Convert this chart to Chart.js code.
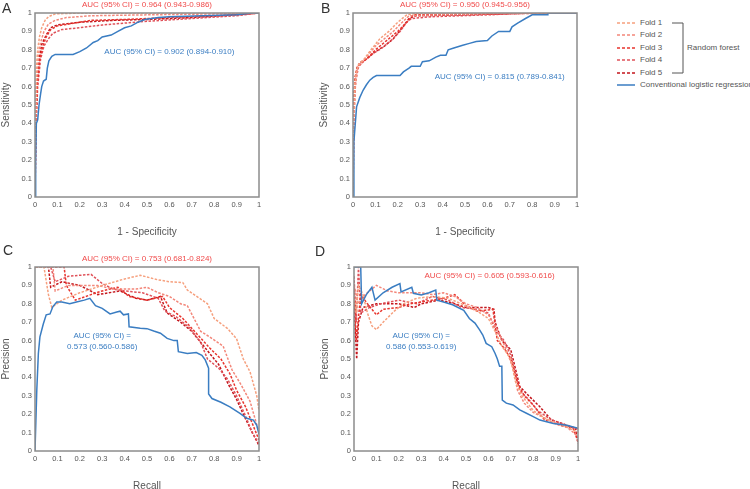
<!DOCTYPE html>
<html>
<head>
<meta charset="utf-8">
<script src="https://cdn.jsdelivr.net/npm/chart.js@4.4.1/dist/chart.umd.min.js"></script>
<style>
  body { margin:0; width:750px; height:489px; overflow:hidden; background:#fff; font-family:"Liberation Sans", Arial, sans-serif; position:relative; }
  canvas { position:absolute; }
  .tag { position:absolute; font-size:14px; color:#333; line-height:1; }
  .leg { position:absolute; font-size:8px; color:#555; line-height:1; white-space:nowrap; }
</style>
</head>
<body>
<canvas id="cA" style="left:0;top:0;width:270px;height:240px" width="270" height="240"></canvas>
<canvas id="cB" style="left:318px;top:0;width:270px;height:240px" width="270" height="240"></canvas>
<canvas id="cC" style="left:0;top:254px;width:270px;height:240px" width="270" height="240"></canvas>
<canvas id="cD" style="left:319px;top:254px;width:270px;height:240px" width="270" height="240"></canvas>

<div class="tag" style="left:2px;top:1px">A</div>
<div class="tag" style="left:321px;top:1px">B</div>
<div class="tag" style="left:3px;top:243px">C</div>
<div class="tag" style="left:315px;top:244px">D</div>

<svg style="position:absolute;left:610px;top:15px" width="90" height="80">
  <line x1="7" y1="8" x2="25" y2="8" stroke="#f6a07e" stroke-width="1.5" stroke-dasharray="3,2"/>
  <line x1="7" y1="20" x2="25" y2="20" stroke="#f3877a" stroke-width="1.5" stroke-dasharray="3,2"/>
  <line x1="7" y1="33" x2="25" y2="33" stroke="#e8352e" stroke-width="1.5" stroke-dasharray="3,2"/>
  <line x1="7" y1="45" x2="25" y2="45" stroke="#e0525a" stroke-width="1.5" stroke-dasharray="3,2"/>
  <line x1="7" y1="58" x2="25" y2="58" stroke="#c4161c" stroke-width="1.5" stroke-dasharray="3,2"/>
  <line x1="7" y1="70" x2="25" y2="70" stroke="#3a7dc2" stroke-width="1.5"/>
  <polyline points="62,8 73,8 73,58 62,58" fill="none" stroke="#555" stroke-width="1"/>
</svg>
<div class="leg" style="left:640px;top:19px">Fold 1</div>
<div class="leg" style="left:640px;top:31px">Fold 2</div>
<div class="leg" style="left:640px;top:44px">Fold 3</div>
<div class="leg" style="left:640px;top:56px">Fold 4</div>
<div class="leg" style="left:640px;top:69px">Fold 5</div>
<div class="leg" style="left:687px;top:44px">Random forest</div>
<div class="leg" style="left:640px;top:81px">Conventional logistic regression</div>

<script>
// ---- A: ROC, test set 1 ----
const A_fold1 = [[0,0],[0.002,0.45],[0.006,0.7],[0.012,0.8],[0.02,0.87],[0.03,0.92],[0.045,0.96],[0.06,0.98],[0.09,0.995],[0.2,1],[1,1]];
const A_fold2 = [[0,0],[0.003,0.4],[0.008,0.65],[0.015,0.77],[0.025,0.84],[0.04,0.9],[0.06,0.94],[0.09,0.96],[0.14,0.975],[0.25,0.985],[0.5,0.99],[0.8,0.995],[1,1]];
const A_fold3 = [[0,0],[0.004,0.4],[0.01,0.6],[0.02,0.74],[0.035,0.82],[0.05,0.87],[0.07,0.91],[0.1,0.93],[0.15,0.94],[0.25,0.96],[0.4,0.965],[0.6,0.975],[0.8,0.985],[1,1]];
const A_fold4 = [[0,0],[0.004,0.35],[0.012,0.6],[0.025,0.75],[0.04,0.82],[0.06,0.86],[0.08,0.89],[0.12,0.91],[0.2,0.92],[0.3,0.935],[0.5,0.955],[0.7,0.97],[0.9,0.985],[1,1]];
const A_fold5 = [[0,0],[0.003,0.4],[0.01,0.62],[0.02,0.76],[0.03,0.83],[0.05,0.88],[0.07,0.92],[0.1,0.935],[0.2,0.95],[0.35,0.96],[0.5,0.965],[0.7,0.975],[0.9,0.99],[1,1]];
const A_lr = [[0,0],[0.003,0.2],[0.006,0.4],[0.012,0.42],[0.018,0.5],[0.025,0.56],[0.03,0.6],[0.038,0.63],[0.05,0.64],[0.055,0.7],[0.062,0.74],[0.075,0.765],[0.09,0.775],[0.17,0.775],[0.2,0.79],[0.23,0.81],[0.26,0.84],[0.28,0.85],[0.3,0.87],[0.34,0.88],[0.37,0.9],[0.4,0.92],[0.43,0.93],[0.46,0.95],[0.49,0.965],[0.55,0.975],[0.6,0.98],[0.75,0.985],[0.9,0.99],[0.97,1],[1,1]];

// ---- B: ROC, test set 2 ----
const B_fold1 = [[0,0],[0.003,0.45],[0.008,0.62],[0.015,0.68],[0.025,0.72],[0.05,0.75],[0.08,0.8],[0.12,0.86],[0.16,0.9],[0.2,0.95],[0.24,0.99],[0.3,1],[1,1]];
const B_fold2 = [[0,0],[0.004,0.4],[0.01,0.6],[0.02,0.7],[0.03,0.72],[0.06,0.76],[0.1,0.82],[0.14,0.86],[0.18,0.9],[0.22,0.95],[0.25,0.985],[0.4,0.99],[0.7,1],[1,1]];
const B_fold3 = [[0,0],[0.003,0.5],[0.01,0.65],[0.02,0.71],[0.04,0.73],[0.07,0.76],[0.1,0.8],[0.15,0.85],[0.2,0.9],[0.24,0.95],[0.27,0.99],[0.5,0.995],[1,1]];
const B_fold4 = [[0,0],[0.004,0.45],[0.012,0.63],[0.025,0.71],[0.05,0.74],[0.09,0.78],[0.13,0.81],[0.17,0.85],[0.21,0.9],[0.24,0.95],[0.26,0.97],[0.35,0.98],[0.6,0.99],[0.8,1],[1,1]];
const B_fold5 = [[0,0],[0.002,0.5],[0.008,0.64],[0.018,0.7],[0.03,0.73],[0.06,0.75],[0.1,0.79],[0.14,0.82],[0.18,0.86],[0.22,0.92],[0.25,0.97],[0.28,0.985],[0.5,0.99],[0.8,1],[1,1]];
const B_lr = [[0,0],[0.004,0.3],[0.009,0.38],[0.016,0.49],[0.03,0.54],[0.045,0.58],[0.06,0.61],[0.075,0.635],[0.09,0.65],[0.105,0.66],[0.21,0.66],[0.225,0.68],[0.25,0.7],[0.26,0.71],[0.3,0.71],[0.31,0.735],[0.34,0.74],[0.37,0.76],[0.39,0.77],[0.415,0.77],[0.425,0.8],[0.45,0.81],[0.49,0.825],[0.52,0.835],[0.55,0.845],[0.6,0.85],[0.62,0.875],[0.65,0.9],[0.7,0.9],[0.71,0.925],[0.735,0.945],[0.77,0.97],[0.8,0.99],[0.87,0.99],[0.87,1],[1,1]];

// ---- C: precision-recall, test set 1 ----
const C_fold1 = [[0,1],[0.04,1],[0.06,0.85],[0.075,0.78],[0.12,0.82],[0.2,0.86],[0.3,0.9],[0.4,0.935],[0.47,0.955],[0.55,0.93],[0.6,0.92],[0.66,0.915],[0.68,0.875],[0.77,0.8],[0.8,0.72],[0.86,0.665],[0.9,0.61],[0.93,0.5],[0.96,0.43],[0.99,0.3],[1,0.22]];
const C_fold2 = [[0,1],[0.08,1],[0.09,0.87],[0.15,0.9],[0.2,0.9],[0.28,0.9],[0.35,0.88],[0.45,0.88],[0.5,0.89],[0.55,0.86],[0.6,0.84],[0.65,0.8],[0.68,0.79],[0.74,0.65],[0.78,0.62],[0.84,0.57],[0.88,0.44],[0.92,0.36],[0.96,0.27],[1,0.1]];
const C_fold3 = [[0,1],[0.13,1],[0.14,0.9],[0.18,0.82],[0.25,0.85],[0.3,0.87],[0.37,0.89],[0.42,0.84],[0.5,0.82],[0.57,0.84],[0.6,0.78],[0.66,0.72],[0.72,0.64],[0.78,0.56],[0.83,0.5],[0.87,0.42],[0.9,0.33],[0.94,0.24],[0.97,0.15],[1,0.06]];
const C_fold4 = [[0,1],[0.07,1],[0.09,0.92],[0.15,0.95],[0.25,0.96],[0.3,0.91],[0.35,0.88],[0.4,0.87],[0.48,0.86],[0.55,0.83],[0.58,0.76],[0.63,0.73],[0.69,0.67],[0.74,0.59],[0.77,0.5],[0.82,0.45],[0.86,0.39],[0.9,0.3],[0.94,0.19],[0.97,0.1],[1,0.04]];
const C_fold5 = [[0,1],[0.06,1],[0.07,0.89],[0.12,0.92],[0.2,0.9],[0.28,0.85],[0.38,0.87],[0.45,0.83],[0.5,0.82],[0.56,0.84],[0.59,0.75],[0.65,0.7],[0.7,0.65],[0.76,0.56],[0.82,0.47],[0.86,0.37],[0.9,0.28],[0.93,0.2],[0.97,0.1],[1,0.03]];
const C_lr = [[0,0],[0.008,0.33],[0.015,0.53],[0.022,0.62],[0.037,0.69],[0.05,0.74],[0.067,0.745],[0.08,0.785],[0.097,0.81],[0.12,0.81],[0.155,0.8],[0.185,0.81],[0.22,0.82],[0.245,0.83],[0.27,0.79],[0.3,0.775],[0.335,0.745],[0.365,0.755],[0.38,0.76],[0.395,0.74],[0.417,0.745],[0.42,0.675],[0.47,0.667],[0.5,0.665],[0.53,0.652],[0.56,0.64],[0.59,0.612],[0.62,0.6],[0.635,0.6],[0.64,0.54],[0.68,0.53],[0.72,0.535],[0.745,0.52],[0.76,0.495],[0.775,0.45],[0.775,0.31],[0.79,0.285],[0.83,0.265],[0.87,0.24],[0.915,0.205],[0.945,0.178],[0.975,0.168],[0.99,0.14],[1,0.09]];

// ---- D: precision-recall, test set 2 ----
const D_fold1 = [[0,0.85],[0.01,0.75],[0.02,0.9],[0.04,0.85],[0.06,0.75],[0.08,0.68],[0.1,0.66],[0.13,0.7],[0.18,0.76],[0.22,0.8],[0.28,0.83],[0.35,0.84],[0.42,0.83],[0.48,0.8],[0.55,0.76],[0.6,0.72],[0.63,0.65],[0.66,0.57],[0.7,0.5],[0.72,0.38],[0.75,0.3],[0.8,0.22],[0.85,0.18],[0.9,0.15],[0.95,0.13],[1,0.1]];
const D_fold2 = [[0,0.9],[0.02,0.8],[0.05,0.85],[0.1,0.9],[0.15,0.87],[0.2,0.86],[0.3,0.86],[0.35,0.85],[0.4,0.86],[0.45,0.84],[0.5,0.8],[0.55,0.78],[0.6,0.74],[0.64,0.66],[0.68,0.55],[0.71,0.45],[0.73,0.33],[0.76,0.26],[0.8,0.21],[0.88,0.16],[0.95,0.13],[1,0.08]];
const D_fold3 = [[0,0.9],[0.01,0.6],[0.03,0.85],[0.06,0.8],[0.1,0.74],[0.13,0.77],[0.2,0.78],[0.25,0.8],[0.3,0.81],[0.4,0.83],[0.45,0.85],[0.5,0.79],[0.55,0.76],[0.62,0.77],[0.64,0.6],[0.67,0.56],[0.7,0.5],[0.73,0.37],[0.76,0.3],[0.8,0.25],[0.85,0.17],[0.92,0.14],[0.98,0.12],[1,0.05]];
const D_fold4 = [[0,0.95],[0.01,0.7],[0.02,1],[0.03,0.75],[0.07,0.78],[0.12,0.8],[0.2,0.82],[0.28,0.8],[0.35,0.84],[0.42,0.82],[0.48,0.78],[0.55,0.77],[0.6,0.75],[0.63,0.66],[0.67,0.6],[0.7,0.52],[0.72,0.42],[0.74,0.33],[0.78,0.28],[0.82,0.22],[0.88,0.17],[0.95,0.14],[1,0.12]];
const D_fold5 = [[0,0.8],[0.012,0.5],[0.02,0.7],[0.04,0.78],[0.1,0.8],[0.2,0.8],[0.27,0.78],[0.3,0.8],[0.38,0.82],[0.45,0.8],[0.5,0.78],[0.55,0.78],[0.6,0.78],[0.625,0.77],[0.63,0.7],[0.66,0.6],[0.7,0.55],[0.72,0.45],[0.74,0.35],[0.78,0.3],[0.83,0.24],[0.88,0.17],[0.95,0.14],[0.99,0.12],[1,0.04]];
const D_lr = [[0,1],[0.03,1],[0.034,0.8],[0.055,0.85],[0.08,0.89],[0.094,0.82],[0.13,0.86],[0.17,0.89],[0.205,0.91],[0.21,0.865],[0.258,0.89],[0.265,0.857],[0.3,0.848],[0.335,0.86],[0.365,0.875],[0.37,0.82],[0.4,0.81],[0.44,0.795],[0.49,0.765],[0.515,0.72],[0.54,0.695],[0.56,0.66],[0.575,0.63],[0.59,0.585],[0.615,0.567],[0.63,0.53],[0.64,0.5],[0.65,0.46],[0.66,0.46],[0.662,0.277],[0.68,0.26],[0.71,0.25],[0.74,0.223],[0.77,0.205],[0.8,0.187],[0.83,0.168],[0.89,0.15],[0.95,0.14],[1,0.123]];

const foldColors = ['#f6a07e', '#f3877a', '#e8352e', '#e0525a', '#c4161c'];
const lrColor = '#3a7dc2';
const redText = '#f04a4a';

const toXY = arr => arr.map(p => ({ x: p[0], y: p[1] }));

// draws the grey box round the plot
const frame = {
    id: 'frame',
    afterDraw(chart) {
        const a = chart.chartArea, ctx = chart.ctx;
        ctx.save();
        ctx.strokeStyle = '#8c8c8c';
        ctx.lineWidth = 1.5;
        ctx.strokeRect(a.left, a.top, a.right - a.left, a.bottom - a.top);
        ctx.restore();
    }
};

// AUC texts, placed in data units
function notesPlugin(notes) {
    return {
        id: 'notes',
        afterDraw(chart) {
            const ctx = chart.ctx;
            ctx.save();
            ctx.font = '8px "Liberation Sans", Arial, sans-serif';
            ctx.textAlign = 'center';
            ctx.textBaseline = 'middle';
            notes.forEach(n => {
                ctx.fillStyle = n.color;
                ctx.fillText(n.text, chart.scales.x.getPixelForValue(n.x), chart.scales.y.getPixelForValue(n.y));
            });
            ctx.restore();
        }
    };
}

function makePanel(id, folds, lr, xTitle, yTitle, notes) {
    const datasets = [{
        data: toXY(lr),
        borderColor: lrColor,
        borderWidth: 1.5,
        showLine: true,
        pointRadius: 0
    }];
    folds.forEach((f, i) => {
        datasets.push({
            data: toXY(f),
            borderColor: foldColors[i],
            borderWidth: 1.5,
            borderDash: [2.5, 1.5],
            showLine: true,
            pointRadius: 0
        });
    });
    const tickFont = { family: '"Liberation Sans", Arial, sans-serif', size: 7.5 };
    const titleFont = { family: '"Liberation Sans", Arial, sans-serif', size: 10, lineHeight: 1.2 };
    return new Chart(document.getElementById(id), {
        type: 'scatter',
        data: { datasets: datasets },
        options: {
            responsive: false,
            animation: false,
            devicePixelRatio: 1,
            layout: { padding: { top: 13, right: 11, left: 0, bottom: 0 } },
            plugins: { legend: { display: false }, tooltip: { enabled: false } },
            scales: {
                x: {
                    type: 'linear', min: 0, max: 1,
                    grid: { display: false, drawTicks: false },
                    border: { display: false },
                    ticks: { stepSize: 0.1, padding: 3, color: '#555', font: tickFont, maxRotation: 0, autoSkip: false,
                             callback: v => String(Math.round(v * 10) / 10) },
                    title: { display: true, text: xTitle, color: '#555', font: titleFont, padding: { top: 0, bottom: 2 } },
                    afterFit: s => { s.height = 43; }
                },
                y: {
                    type: 'linear', min: 0, max: 1,
                    grid: { display: false, drawTicks: false },
                    border: { display: false },
                    ticks: { stepSize: 0.1, padding: 3, color: '#555', font: tickFont, autoSkip: false,
                             callback: v => String(Math.round(v * 10) / 10) },
                    title: { display: true, text: yTitle, color: '#555', font: titleFont, padding: { top: 0, bottom: 0 } },
                    afterFit: s => { s.width = 35; }
                }
            }
        },
        plugins: [frame, notesPlugin(notes)]
    });
}

makePanel('cA', [A_fold1, A_fold2, A_fold3, A_fold4, A_fold5], A_lr, '1 - Specificity', 'Sensitivity', [
    { text: 'AUC (95% CI) = 0.964 (0.943-0.986)', x: 0.5, y: 1.045, color: redText },
    { text: 'AUC (95% CI) = 0.902 (0.894-0.910)', x: 0.6, y: 0.79, color: lrColor }
]);
makePanel('cB', [B_fold1, B_fold2, B_fold3, B_fold4, B_fold5], B_lr, '1 - Specificity', 'Sensitivity', [
    { text: 'AUC (95% CI) = 0.950 (0.945-0.956)', x: 0.5, y: 1.045, color: redText },
    { text: 'AUC (95% CI) = 0.815 (0.789-0.841)', x: 0.655, y: 0.655, color: lrColor }
]);
makePanel('cC', [C_fold1, C_fold2, C_fold3, C_fold4, C_fold5], C_lr, 'Recall', 'Precision', [
    { text: 'AUC (95% CI) = 0.753 (0.681-0.824)', x: 0.5, y: 1.045, color: redText },
    { text: 'AUC (95% CI) =', x: 0.3, y: 0.625, color: lrColor },
    { text: '0.573 (0.560-0.586)', x: 0.3, y: 0.565, color: lrColor }
]);
makePanel('cD', [D_fold1, D_fold2, D_fold3, D_fold4, D_fold5], D_lr, 'Recall', 'Precision', [
    { text: 'AUC (95% CI) = 0.605 (0.593-0.616)', x: 0.605, y: 0.95, color: redText },
    { text: 'AUC (95% CI) =', x: 0.3, y: 0.625, color: lrColor },
    { text: '0.586 (0.553-0.619)', x: 0.3, y: 0.565, color: lrColor }
]);
</script>
</body>
</html>
